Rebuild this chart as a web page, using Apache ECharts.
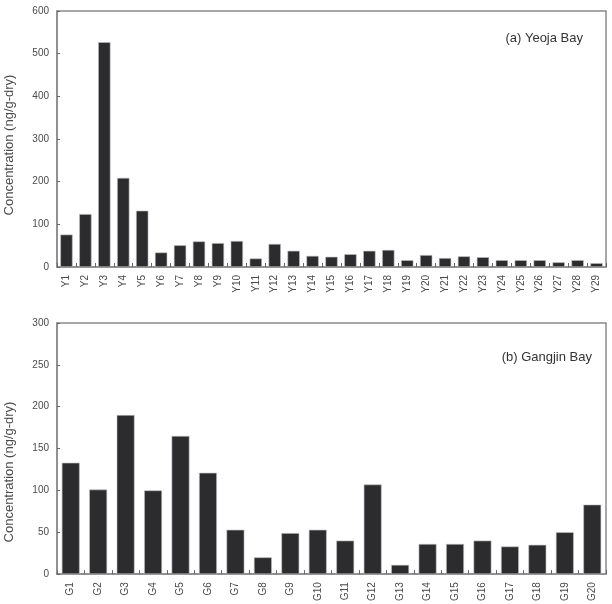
<!DOCTYPE html>
<html>
<head>
<meta charset="utf-8">
<script src="https://cdn.jsdelivr.net/npm/echarts@6/dist/echarts.min.js"></script>
<style>
  html, body { margin: 0; padding: 0; background: #fff; }
  #chart { width: 612px; height: 604px; }
</style>
</head>
<body>
<div id="chart"></div>
<script>
// station names and concentrations (ng/g-dry)
var yeojaSites = ['Y1','Y2','Y3','Y4','Y5','Y6','Y7','Y8','Y9','Y10','Y11','Y12','Y13','Y14','Y15',
                  'Y16','Y17','Y18','Y19','Y20','Y21','Y22','Y23','Y24','Y25','Y26','Y27','Y28','Y29']
var yeojaValues = [76, 124, 527, 209, 132, 34, 51, 60, 56, 61, 20, 54, 38, 26, 24,
                   30, 38, 40, 16, 28, 21, 25, 23, 16, 16, 16, 11, 16, 9]

var gangjinSites = ['G1','G2','G3','G4','G5','G6','G7','G8','G9','G10',
                    'G11','G12','G13','G14','G15','G16','G17','G18','G19','G20']
var gangjinValues = [133, 101, 190, 100, 165, 121, 53, 20, 49, 53,
                     40, 107, 11, 36, 36, 40, 33, 35, 50, 83]

var yTitle = 'Concentration (ng/g-dry)'
var panelTitles = ['(a) Yeoja Bay', '(b) Gangjin Bay']

var font = 'Liberation Sans, Arial, sans-serif'
var axisGray = '#8a8a8a'
var textGray = '#4a4a4a'
var barColor = '#2c2c2f'

const xAxisOpt = (idx, cats) => {
    return {
        type: 'category',
        gridIndex: idx,
        data: cats,
        axisLine: { lineStyle: { color: axisGray, width: 1.5 } },
        axisTick: { show: true, inside: true, length: 4, alignWithLabel: false, lineStyle: { color: '#666' } },
        axisLabel: { rotate: 90, fontSize: 10, color: textGray, fontFamily: font, margin: 8 }
    }
}

const yAxisOpt = (idx, max, step) => {
    return {
        type: 'value',
        gridIndex: idx,
        min: 0,
        max: max,
        interval: step,
        splitLine: { show: false },
        axisLine: { show: true, lineStyle: { color: axisGray, width: 1.5 } },
        axisTick: { show: true, inside: true, length: 3, lineStyle: { color: '#666' } },
        axisLabel: { fontSize: 10, color: textGray, fontFamily: font, margin: 8 }
    }
}

const barSeries = (idx, vals, width) => {
    return {
        type: 'bar',
        xAxisIndex: idx,
        yAxisIndex: idx,
        data: vals,
        barWidth: width,
        itemStyle: { color: barColor, borderColor: '#bdbdbd', borderWidth: 0.6 },
        silent: true
    }
}

var chart = echarts.init(document.getElementById('chart'), null, { renderer: 'canvas' })

chart.setOption({
    animation: false,
    backgroundColor: '#ffffff',
    grid: [
        { left: 57, top: 11, width: 549, height: 256, show: true, borderColor: axisGray, borderWidth: 1.5 },
        { left: 57, top: 323, width: 549, height: 254, show: true, borderColor: axisGray, borderWidth: 1.5 }
    ],
    xAxis: [xAxisOpt(0, yeojaSites), xAxisOpt(1, gangjinSites)],
    yAxis: [yAxisOpt(0, 600, 100), yAxisOpt(1, 300, 50)],
    series: [barSeries(0, yeojaValues, '65%'), barSeries(1, gangjinValues, '65%')],
    graphic: [
        {
            type: 'text', x: 9, y: 145, rotation: Math.PI / 2,
            style: { text: yTitle, fill: textGray, font: '13px ' + font, align: 'center', verticalAlign: 'middle' }
        },
        {
            type: 'text', x: 9, y: 472, rotation: Math.PI / 2,
            style: { text: yTitle, fill: textGray, font: '13px ' + font, align: 'center', verticalAlign: 'middle' }
        },
        {
            type: 'text', x: 583, y: 38,
            style: { text: panelTitles[0], fill: '#333', font: '13px ' + font, align: 'right', verticalAlign: 'middle' }
        },
        {
            type: 'text', x: 592, y: 357,
            style: { text: panelTitles[1], fill: '#333', font: '13px ' + font, align: 'right', verticalAlign: 'middle' }
        }
    ]
})
</script>
</body>
</html>
